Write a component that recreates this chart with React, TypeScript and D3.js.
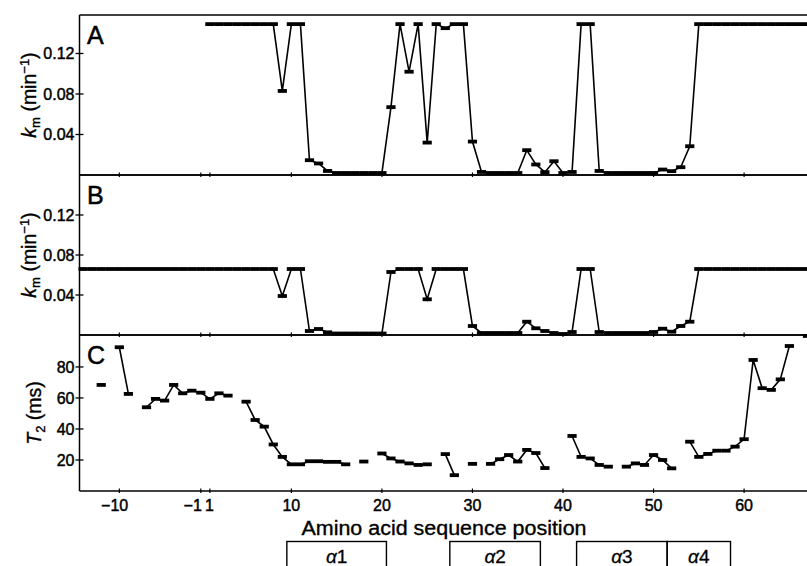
import React from "react";
import * as d3 from "d3";

// ---------- data ----------
const residues = [
  -14, -13, -12, -11, -10, -9, -8, -7, -6, -5, -4, -3, -2, -1,
  1, 2, 3, 4, 5, 6, 7, 8, 9, 10, 11, 12, 13, 14, 15, 16, 17, 18, 19, 20,
  21, 22, 23, 24, 25, 26, 27, 28, 29, 30, 31, 32, 33, 34, 35, 36, 37, 38, 39, 40,
  41, 42, 43, 44, 45, 46, 47, 48, 49, 50, 51, 52, 53, 54, 55, 56, 57, 58, 59, 60,
  61, 62, 63, 64, 65, 66, 67,
];

const kmA: (number | null)[] = [
  null, null, null, null, null, null, null, null, null, null, null, null, null, null,
  0.149, 0.149, 0.149, 0.149, 0.149, 0.149, 0.149, 0.149, 0.083, 0.149,
  0.149, 0.0146, 0.0114, 0.004, 0.002, 0.002, 0.002, 0.002, 0.002, 0.002,
  0.067, 0.149, 0.102, 0.149, 0.032, 0.149, 0.145, 0.149, 0.149, 0.033,
  0.003, 0.002, 0.002, 0.002, 0.002, 0.0245, 0.0104, 0.0028, 0.0136, 0.002,
  0.003, 0.149, 0.149, 0.004, 0.002, 0.002, 0.002, 0.002, 0.002, 0.002,
  0.0054, 0.0038, 0.0077, 0.0284, 0.149, 0.149, 0.149, 0.149, 0.149, 0.149,
  0.149, 0.149, 0.149, 0.149, 0.149, 0.149, 0.149,
];

const kmB: (number | null)[] = [
  0.066, 0.066, 0.066, 0.066, 0.066, 0.066, 0.066, 0.066, 0.066, 0.066, 0.066, 0.066, 0.066, 0.066,
  0.066, 0.066, 0.066, 0.066, 0.066, 0.066, 0.066, 0.066, 0.039, 0.066,
  0.066, 0.004, 0.006, 0.0027, 0.0015, 0.0015, 0.0015, 0.0015, 0.0015, 0.0015,
  0.063, 0.066, 0.066, 0.066, 0.0357, 0.066, 0.066, 0.066, 0.066, 0.009,
  0.002, 0.002, 0.002, 0.002, 0.002, 0.0133, 0.0067, 0.004, 0.002, 0.001,
  0.003, 0.066, 0.066, 0.003, 0.002, 0.002, 0.002, 0.002, 0.002, 0.003,
  0.0063, 0.0033, 0.009, 0.0133, 0.066, 0.066, 0.066, 0.066, 0.066, 0.066,
  0.066, 0.066, 0.066, 0.066, 0.066, 0.066, 0.066,
];

const t2: (number | null)[] = [
  null, null, 68.4, null, 92.7, 62.6, null, 54, 59.4, 58.3, 68.4, 63, 64.7, 63.4,
  59.4, 63, 61.5, null, 57.6, 45.8, 41.5, 30, 22, 17.2,
  17.2, 19.2, 19.2, 18.8, 18.8, 17.2, null, 19, null, 24.2,
  21, 19, 17.8, 16.8, 17.2, null, 23.8, 10.2, null, 17.5,
  null, 17.5, 20.5, 23.2, 19, 26.5, 24.5, 14.8, null, null,
  35.5, 22, 21, 16.8, 15.7, null, 15.7, 17.8, 16.8, 23.2,
  20, 14.6, null, 31.8, 22, 23.9, 26, 26, 28.6, 33.4,
  84.5, 66.3, 65.2, 72, 93.5, null, 100,
];

const xTickValues = [-10, -1, 1, 10, 20, 30, 40, 50, 60];
const kmTicks = [0.04, 0.08, 0.12];
const t2Ticks = [20, 40, 60, 80];
const helixLabels = ["1", "2", "3", "4"];
const helixStart = [10, 28, 42, 52];
const helixEnd = [20, 37, 51, 58];

// ---------- layout ----------
const W = 807;
const H = 566;
const FONT = "'Liberation Sans', Arial, Helvetica, sans-serif";
const AXIS_X = 79.5;
const RIGHT = 812;

// residue -> sequential index (there is no residue 0)
const toIndex = (p: number) => (p < 0 ? p + 1 : p);

const x = d3.scaleLinear().domain([-13.4, 67.5]).range([AXIS_X, RIGHT]);

type Panel = {
  letter: string;
  values: (number | null)[];
  top: number;
  bottom: number;
  max: number;
  ticks: number[];
  fmt: (v: number) => string;
  titleX: number;
  title: "km" | "t2";
};

const panels: Panel[] = [
  { letter: "A", values: kmA, top: 15, bottom: 175, max: 0.158, ticks: kmTicks, fmt: d3.format(".2f"), titleX: 36, title: "km" },
  { letter: "B", values: kmB, top: 175, bottom: 335, max: 0.16, ticks: kmTicks, fmt: d3.format(".2f"), titleX: 36, title: "km" },
  { letter: "C", values: t2, top: 335, bottom: 491, max: 100.6, ticks: t2Ticks, fmt: d3.format("d"), titleX: 41, title: "t2" },
];

const fmtX = (v: number) => (v < 0 ? "\u2212" + Math.abs(v) : String(v));

function PanelView({ p }: { p: Panel }) {
  const y = d3.scaleLinear().domain([0, p.max]).range([p.bottom, p.top]);
  const pts = residues.map((r, i) => ({ r, v: p.values[i] }));
  const line = d3
    .line<{ r: number; v: number | null }>()
    .defined((d) => d.v != null)
    .x((d) => x(toIndex(d.r)))
    .y((d) => y(d.v as number));
  const cy = (p.top + p.bottom) / 2;
  return (
    <g>
      {/* frame */}
      <line x1={AXIS_X} x2={RIGHT} y1={p.top} y2={p.top} stroke="#000" strokeWidth={1.3} />
      <line x1={AXIS_X} x2={RIGHT} y1={p.bottom} y2={p.bottom} stroke="#000" strokeWidth={1.4} />
      <line x1={AXIS_X} x2={AXIS_X} y1={p.top} y2={p.bottom} stroke="#000" strokeWidth={1.5} />
      {/* x ticks */}
      {xTickValues.map((t) => (
        <line key={t} x1={x(toIndex(t))} x2={x(toIndex(t))} y1={p.bottom - 2.5} y2={p.bottom + 2} stroke="#000" strokeWidth={1.2} />
      ))}
      {/* y ticks */}
      {p.ticks.map((t) => (
        <g key={t}>
          <line x1={AXIS_X - 4} x2={AXIS_X + 4} y1={y(t)} y2={y(t)} stroke="#000" strokeWidth={1.3} />
          <text x={AXIS_X - 5} y={y(t)} dy="0.36em" textAnchor="end" fontFamily={FONT} fontSize={16} fill="#000" stroke="#000" strokeWidth={0.45}>
            {p.fmt(t)}
          </text>
        </g>
      ))}
      {/* panel letter */}
      <text x={87} y={p.top + 29} fontFamily={FONT} fontSize={25} fill="#000" stroke="#000" strokeWidth={0.5}>
        {p.letter}
      </text>
      {/* y title */}
      <g transform={`translate(${p.titleX},${cy}) rotate(-90)`}>
        {p.title === "km" ? (
          <text textAnchor="middle" fontFamily={FONT} fontSize={19.5} fill="#000" stroke="#000" strokeWidth={0.35}>
            <tspan fontStyle="italic">k</tspan>
            <tspan fontSize={13} dy={4}>m</tspan>
            <tspan dy={-4}> (min</tspan>
            <tspan fontSize={13} dy={-7}>{"\u22121"}</tspan>
            <tspan dy={7}>)</tspan>
          </text>
        ) : (
          <text textAnchor="middle" fontFamily={FONT} fontSize={19.5} fill="#000" stroke="#000" strokeWidth={0.35}>
            <tspan fontStyle="italic">T</tspan>
            <tspan fontSize={13} dy={4}>2</tspan>
            <tspan dy={-4}> (ms)</tspan>
          </text>
        )}
      </g>
      {/* data */}
      <path d={line(pts) ?? ""} fill="none" stroke="#000" strokeWidth={1.6} />
      {pts
        .filter((d) => d.v != null)
        .map((d) => (
          <rect key={d.r} x={x(toIndex(d.r)) - 4.6} y={y(d.v as number) - 1.9} width={9.2} height={3.8} fill="#000" />
        ))}
    </g>
  );
}

export default function App() {
  const baseY = 510.5;
  return (
    <svg width={W} height={H} style={{ position: "absolute", left: 0, top: 0, background: "#fff" }}>
      <rect x={0} y={0} width={W} height={H} fill="#fff" />
      {panels.map((p) => (
        <PanelView key={p.letter} p={p} />
      ))}
      {/* x tick labels */}
      {xTickValues.map((t) => {
        const cx = x(toIndex(t));
        const digits = String(Math.abs(t)).length;
        const half = (digits * 0.556 * 16) / 2;
        let tx = cx;
        let anchor: "end" | "middle" = "middle";
        if (t < 0) {
          anchor = "end";
          tx = t === -1 ? cx + 1 : cx + half;
        } else if (t === 1) {
          tx = cx - 0.5;
        }
        return (
          <text key={t} x={tx} y={baseY} textAnchor={anchor} fontFamily={FONT} fontSize={16} fill="#000" stroke="#000" strokeWidth={0.45}>
            {fmtX(t)}
          </text>
        );
      })}
      <text x={444} y={535} textAnchor="middle" fontFamily={FONT} fontSize={20} textLength={285} lengthAdjust="spacingAndGlyphs" fill="#000" stroke="#000" strokeWidth={0.35}>
        Amino acid sequence position
      </text>
      {/* helix boxes */}
      {helixLabels.map((lab, i) => {
        const x0 = x(toIndex(helixStart[i]) - 0.5);
        const x1 = x(toIndex(helixEnd[i]) + 0.5);
        return (
          <g key={lab}>
            <rect x={x0} y={541.5} width={x1 - x0} height={40} fill="none" stroke="#000" strokeWidth={1.4} />
            <text x={(x0 + x1) / 2} y={563} textAnchor="middle" fontFamily={FONT} fontSize={19} fill="#000" stroke="#000" strokeWidth={0.3}>
              <tspan fontStyle="italic">{"\u03b1"}</tspan>
              <tspan>{lab}</tspan>
            </text>
          </g>
        );
      })}
    </svg>
  );
}
